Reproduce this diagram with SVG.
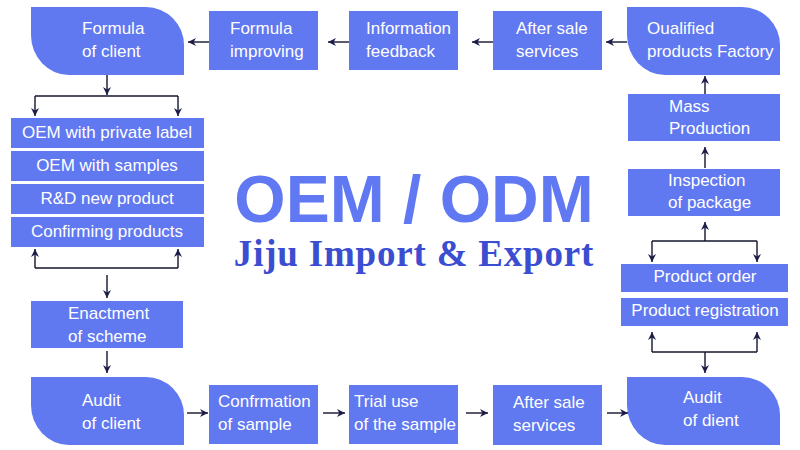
<svg xmlns="http://www.w3.org/2000/svg" width="800" height="450" viewBox="0 0 800 450">
<style>
.box{fill:#6078F0}
.t{font-family:"Liberation Sans",Arial,sans-serif;font-size:17px;fill:#ffffff}
.c{text-anchor:middle}
.ln{fill:none;stroke:#14142e;stroke-width:1.4}
.a{marker-end:url(#ah)}
</style>
<defs>
<path id="leaf" d="M0,0 H115 A38,38 0 0 1 153,38 V68 H38 A38,40 0 0 1 0,28 Z"/>
<marker id="ah" viewBox="0 0 10 10" refX="10" refY="5" markerWidth="9" markerHeight="8" markerUnits="userSpaceOnUse" orient="auto">
<path d="M0,0 L10,5 L0,10 L3,5 Z" fill="#1c1c4a"/>
</marker>
</defs>
<rect width="800" height="450" fill="#ffffff"/>

<g id="title">
<text x="414" y="222" text-anchor="middle" font-family="'Liberation Sans',Arial,sans-serif" font-weight="bold" font-size="66" fill="#6079F2">OEM / ODM</text>
<text x="414" y="266" text-anchor="middle" font-family="'Liberation Serif','Times New Roman',serif" font-weight="bold" font-size="37" letter-spacing="0.8" fill="#3B4DD1">Jiju Import &amp; Export</text>
</g>

<g id="formula-client"><use href="#leaf" class="box" transform="translate(31,7)"/><text class="t" x="82" y="34">Formula</text><text class="t" x="82" y="57">of client</text></g>
<g id="formula-improving"><rect class="box" x="209" y="11" width="109" height="59"/><text class="t" x="230" y="34">Formula</text><text class="t" x="230" y="57">improving</text></g>
<g id="info-feedback"><rect class="box" x="349" y="11" width="109" height="59"/><text class="t" x="366" y="34">Information</text><text class="t" x="366" y="57">feedback</text></g>
<g id="after-sale-top"><rect class="box" x="493" y="11" width="109" height="59"/><text class="t" x="516" y="34">After sale</text><text class="t" x="516" y="57">services</text></g>
<g id="qualified"><use href="#leaf" class="box" transform="translate(627,7)"/><text class="t" x="647" y="34">Oualified</text><text class="t" x="647" y="57">products Factory</text></g>

<g id="oem-private"><rect class="box" x="11" y="118" width="193" height="30"/><text class="t c" x="107" y="138">OEM with private label</text></g>
<g id="oem-samples"><rect class="box" x="11" y="151" width="193" height="30"/><text class="t c" x="107" y="171">OEM with samples</text></g>
<g id="rd-new"><rect class="box" x="11" y="184" width="193" height="30"/><text class="t c" x="107" y="204">R&amp;D new product</text></g>
<g id="confirming"><rect class="box" x="11" y="217" width="193" height="30"/><text class="t c" x="107" y="237">Confirming products</text></g>

<g id="enactment"><rect class="box" x="31" y="301" width="152" height="47"/><text class="t" x="68" y="319">Enactment</text><text class="t" x="68" y="342">of scheme</text></g>
<g id="audit-client"><use href="#leaf" class="box" transform="translate(31,377)"/><text class="t" x="82" y="406">Audit</text><text class="t" x="82" y="429">of client</text></g>
<g id="confirmation"><rect class="box" x="209" y="385" width="109" height="59"/><text class="t" x="218" y="407">Confrmation</text><text class="t" x="218" y="430">of sample</text></g>
<g id="trial"><rect class="box" x="349" y="385" width="109" height="59"/><text class="t" x="354" y="407">Trial use</text><text class="t" x="354" y="430">of the sample</text></g>
<g id="after-sale-bottom"><rect class="box" x="493" y="385" width="109" height="60"/><text class="t" x="513" y="408">After sale</text><text class="t" x="513" y="431">services</text></g>
<g id="audit-dient"><use href="#leaf" class="box" transform="translate(627,377)"/><text class="t" x="683" y="403">Audit</text><text class="t" x="683" y="426">of dient</text></g>

<g id="mass"><rect class="box" x="628" y="94" width="152" height="47"/><text class="t" x="669" y="112">Mass</text><text class="t" x="669" y="134">Production</text></g>
<g id="inspection"><rect class="box" x="628" y="169" width="152" height="47"/><text class="t" x="668" y="186">Inspection</text><text class="t" x="668" y="208">of package</text></g>
<g id="product-order"><rect class="box" x="621" y="264" width="167" height="28"/><text class="t c" x="705" y="282">Product order</text></g>
<g id="product-registration"><rect class="box" x="621" y="298" width="167" height="28"/><text class="t c" x="705" y="316">Product registration</text></g>

<g id="connectors">
<path class="ln a" d="M209,42 H188"/>
<path class="ln a" d="M349,42 H328"/>
<path class="ln a" d="M493,42 H472"/>
<path class="ln a" d="M627,42 H606"/>

<path class="ln a" d="M107,75 V95"/>
<path class="ln" d="M35,96 H178"/>
<path class="ln a" d="M35,96 V116"/>
<path class="ln a" d="M178,96 V116"/>
<path class="ln" d="M35,268 H178"/>
<path class="ln a" d="M35,268 V249"/>
<path class="ln a" d="M178,268 V249"/>
<path class="ln a" d="M107,275 V298"/>
<path class="ln a" d="M107,351 V373"/>

<path class="ln a" d="M187,413 H208"/>
<path class="ln a" d="M323,413 H345"/>
<path class="ln a" d="M466,413 H488"/>
<path class="ln a" d="M607,413 H628"/>

<path class="ln a" d="M705,94 V76"/>
<path class="ln a" d="M705,168 V147"/>
<path class="ln a" d="M705,241 V222"/>
<path class="ln" d="M652,241 H757"/>
<path class="ln a" d="M652,241 V262"/>
<path class="ln a" d="M757,241 V262"/>
<path class="ln" d="M652,352 H757"/>
<path class="ln a" d="M652,352 V332"/>
<path class="ln a" d="M757,352 V332"/>
<path class="ln a" d="M705,352 V373"/>
</g>
</svg>
